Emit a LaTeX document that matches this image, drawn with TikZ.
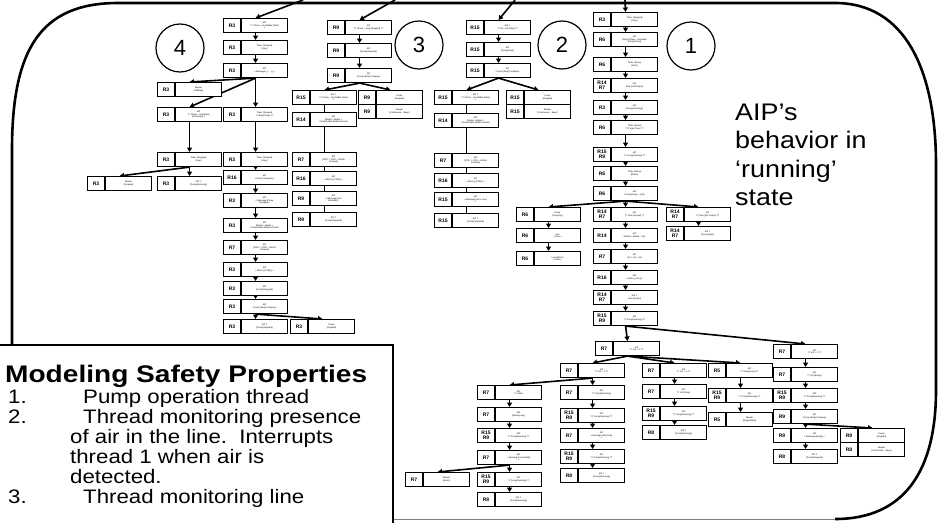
\documentclass[tikz,border=0pt]{standalone}
\usepackage{fontspec}
\usepackage{graphicx}
\setmainfont{Liberation Sans}
\usetikzlibrary{arrows.meta,calc}
\newcommand\aboxreal[5]{%
  \node[bx] (#1) at (#2,#3) {};
  \draw[ln] ($(#1.north west)+(18,0)$) -- ($(#1.south west)+(18,0)$);
  \node[lbl] at ($(#1.west)+(9,0)$) {#4};
  \node[tx] at ($(#1.center)+(9,0)$) {#5};
}
\newcommand\aboxghost[5]{\path node[bx, draw=none, fill=none] (#1) at (#2,#3) {};}
\newcommand\con[2]{\draw[arr] (#1.south) -- (#2.north);}
\newcommand\conl[2]{\draw[cln] (#1.south) -- (#2.north);}
\newcommand\allboxes{%
% ---------- thread 4
\abox{c4a}{223}{18}{R3}{AIP\\?? Check -- Air Bubble {[Start]}\\!!}
\abox{c4b}{223}{40}{R3}{Timer (Stopped)\\{[Stop]}}
\abox{c4c}{223}{63}{R3}{AIP\\<< Message{[...]} ... {[]} >>}
\abox{c4d}{157}{82}{R3}{Beeper\\{[OffBeep]}}
\abox{c4e}{157}{107}{R3}{AIP\\?? Check -- Air Bubble\\{[Continued]} !!}
\abox{c4f}{223}{107}{R3}{Timer (Stopped)\\?? Beep Delay ??}
\abox{c4g}{157}{152}{R3}{Timer (Stopped)\\{[Stop]}}
\abox{c4h}{223}{152}{R3}{Timer (Stopped)\\{[Stop]}}
\abox{c4r}{87}{176}{R3}{Beeper\\{[Stopped]}}
\abox{c4s}{157}{176}{R3}{AIP !!\\{[Pump(Running)]}}
\abox{c4i}{223}{170}{R16}{AIP\\<< Motor {[Stopped]} >>}
\abox{c4j}{223}{193}{R3}{AIP\\<< Message {[Pump}\\{Stopped]} >>}
\abox{c4k}{223}{218}{R3}{AIP\\{[Model = Model +}\\{Commanded Model Amount]}}
\abox{c4l}{223}{240}{R7}{AIP\\{[VTBI := VTBI -- VolInfo}\\{Pumped]}}
\abox{c4m}{223}{262}{R3}{AIP\\<< Motor {[]} VTBI {[]} >>}
\abox{c4n}{223}{281}{R3}{AIP\\{[Pump(Stopped)]}}
\abox{c4o}{223}{299}{R3}{AIP\\<Pump {[Stop]} Pumping>}
\abox{c4p}{223}{319}{R3}{AIP !!\\{[Pump(Stopped)]}}
\abox{c4q}{290}{319}{R3}{Pump\\{[Stopped]}}
% ---------- thread 3
\abox{c3a}{327}{20}{R9}{AIP\\?? Check -- Stop {[Stopped]} ??}
\abox{c3b}{327}{43}{R9}{AIP\\{[Pump(Stopped)]}}
\abox{c3c}{327}{68}{R9}{AIP\\<Pump {[Stop]} Pumping>}
\abox{c3d}{292}{90}{R15}{AIP !!\\?? Check -- Air Bubble {[Stop]}\\!!}
\abox{c3e}{292}{112}{R14}{AIP\\{[Model = Model +}\\{Commanded Model Amount]}}
\abox{c3f}{358}{90}{R9}{Pump\\{[Stopped]}}
\abox{c3f2}{358}{104}{R9}{Beeper\\{[Continuous -- Beep]}}
\abox{c3g}{292}{152}{R7}{AIP\\{[VTBI := VTBI -- VolInfo}\\{Pumped]}}
\abox{c3h}{292}{171}{R16}{AIP\\<< Motor {[]} VTBI {[]} >>}
\abox{c3i}{292}{191}{R9}{AIP\\<< Message {[Line}\\{Blocked]} >>}
\abox{c3j}{292}{212}{R9}{AIP !!\\{[Pump(Stopped)]}}
% ---------- thread 2
\abox{c2a}{466}{20}{R15}{AIP !!\\?? Air -- Air {[Stop]} ??}
\abox{c2b}{466}{42}{R15}{AIP\\{[Pump(Stop)]}}
\abox{c2c}{466}{63}{R15}{AIP\\<Pump {[Stop]} Pumping>}
\abox{c2d}{434}{90}{R15}{AIP !!\\?? Check -- Air Bubble {[Stop]}\\!!}
\abox{c2f}{506}{90}{R15}{Pump\\{[Stopped]}}
\abox{c2f2}{506}{104}{R15}{Beeper\\{[Continuous -- Beep]}}
\abox{c2e}{434}{113}{R14}{AIP\\{[Model = Model +}\\{Commanded Model Amount]}}
\abox{c2g}{434}{153}{R7}{AIP\\{[VTBI := VTBI -- VolInfo}\\{Pumped]}}
\abox{c2h}{434}{173}{R16}{AIP\\<< Motor {[]} VTBI {[]} >>}
\abox{c2i}{434}{192}{R15}{AIP\\<< Message {[Air in Line]}\\>>}
\abox{c2j}{434}{213}{R15}{AIP !!\\{[Pump(Stopped)]}}
% ---------- thread 1
\abox{c1a}{593}{12}{R3}{Timer (Stopped)\\{[Stop]}}
\abox{c1b}{593}{32}{R6}{AIP\\{[Pump(Timer -- Unlocked}\\{Pump(Timer)]}}
\abox{c1c}{593}{57}{R6}{Timer (Pump)\\{[Start]}}
\abox{c1d}{593}{78}{R14\\R7}{AIP\\Stop {[Unit/Output]}}
\abox{c1e}{593}{100}{R3}{AIP\\{[Pump(Running)]}}
\abox{c1f}{593}{120}{R6}{Timer (Pump)\\?? Pump Timer ??}
\abox{c1g}{593}{147}{R15\\R9}{AIP\\?? Pump(Running) ??}
\abox{c1h}{593}{166}{R6}{Timer (Pump)\\{[Reset]}}
\abox{c1i}{593}{186}{R6}{AIP\\<Pump{[Pump -- Vol]}>}
\abox{c1L}{516}{207}{R6}{Pump\\{[Pumping]}}
\abox{c1L2}{516}{228}{R6}{Line\\<< Flow >>}
\abox{c1L3}{516}{251}{R6}{Line (Motor)\\<< Flow >>}
\abox{c1j}{593}{207}{R14\\R7}{AIP\\?? Flow {[Output]} ??}
\abox{c1R}{666}{207}{R14\\R7}{AIP\\?? Flow {[Set Output]} ??}
\abox{c1R2}{666}{226}{R14\\R7}{AIP !!\\Flow {[Output]}}
\abox{c1k}{593}{228}{R14}{AIP\\{[Model = Model -- Vol]}}
\abox{c1l}{593}{249}{R7}{AIP\\Vol := Vol -- Vol}
\abox{c1m}{593}{270}{R16}{AIP\\<< Motor {[]} Vol {[]} >>}
\abox{c1n}{593}{290}{R14\\R7}{AIP !!\\Flow {[Output]}}
\abox{c1o}{593}{311}{R15\\R9}{AIP\\?? Pump(Running) ??}
\abox{c1p}{595}{341}{R7}{AIP\\?? Vol := 0 ??}
\abox{c1q}{773}{344}{R7}{AIP\\?? Vol := 0 ??}
\abox{p1}{560}{363}{R7}{AIP\\?? Vol := 0 ??}
\abox{p2}{642}{363}{R7}{AIP\\?? Vol := 0 ??}
\abox{p3}{708}{363}{R5}{AIP\\?? Model {[Low]} ??}
\abox{q1}{477}{385}{R7}{AIP\\?? Alarm}
\abox{q1a}{477}{407}{R7}{AIP\\{[Alarm(Low)]}}
\abox{q1b}{477}{428}{R15\\R9}{AIP\\?? Pump(Running) ??}
\abox{q1c}{477}{450}{R7}{AIP\\<< Message {[Low Model]}\\>>}
\abox{q1d}{405}{472}{R7}{Beeper\\{[Alarm]}}
\abox{q1e}{477}{472}{R15\\R9}{AIP\\?? Pump(Running) ??}
\abox{q1f}{477}{492}{R8}{AIP !!\\{[Pump(Running)]}}
\abox{q2}{560}{385}{R7}{AIP\\?? Pump(Running)}
\abox{q2a}{560}{408}{R15\\R9}{AIP\\?? Pump(Running) ??}
\abox{q2b}{560}{428}{R7}{AIP\\<< Message {[Vol Done]}\\>>}
\abox{q2c}{560}{449}{R15\\R9}{AIP\\?? Pump(Running) ??}
\abox{q2d}{560}{468}{R8}{AIP !!\\{[Pump(Running)]}}
\abox{p2a}{642}{384}{R7}{AIP\\?? Vol {[Done]}}
\abox{p2b}{642}{406}{R15\\R9}{AIP\\?? Pump(Running) ??}
\abox{p2c}{642}{425}{R8}{AIP !!\\{[Pump(Running)]}}
\abox{p3a}{708}{388}{R15\\R9}{AIP\\?? Pump(Running) ??}
\abox{p3b}{708}{412}{R5}{Beeper\\{[Single Beep]}}
\abox{r1}{773}{367}{R7}{AIP\\?? Vol {[Empty]}}
\abox{r2}{773}{388}{R15\\R9}{AIP\\?? Pump(Running) ??}
\abox{r3}{773}{409}{R9}{AIP\\<Pump {[Stop]} Pumping>}
\abox{r4}{773}{428}{R9}{AIP\\<< Message {[Empty]} >>}
\abox{r5}{773}{449}{R8}{AIP !!\\{[Pump(Stopped)]}}
\abox{r6}{840}{428}{R9}{Pump\\{[Stopped]}}
\abox{r7}{840}{442}{R8}{Beeper\\{[Continuous -- Beep]}}
}
\begin{document}
\begin{tikzpicture}[x=1pt,y=-1pt,
  bx/.style={draw, line width=1.1pt, minimum width=64pt, minimum height=14pt, inner sep=0pt, anchor=north west, fill=white},
  lbl/.style={font=\fontsize{5}{4.6}\selectfont\bfseries, inner sep=0pt, align=center},
  tx/.style={font=\fontsize{2.2}{2.6}\selectfont, inner sep=0pt, align=center},
  arr/.style={draw=black, line width=1.6pt, -{Triangle[length=4.5pt,width=5pt]}},
  ln/.style={draw=black, line width=1.1pt},
  cln/.style={draw=black, line width=1.6pt},
  frame/.style={line width=2.6pt},
  circ/.style={draw, circle, line width=1.2pt, minimum size=48pt, inner sep=0pt, font=\fontsize{22}{22}\selectfont},
  big/.style={inner sep=0pt, anchor=base west, font=\fontsize{24}{24}\selectfont},
  itm/.style={inner sep=0pt, anchor=base west, font=\fontsize{19.5}{19.5}\selectfont},
]
\useasboundingbox (0,0) rectangle (942,522);
\fill[white] (0,0) rectangle (942,522);

% outer frame
\draw[frame] (12,522) -- (12,150) .. controls (12,50) and (40,3) .. (118,3) -- (835,3)
  .. controls (905,3) and (936,70) .. (936,165) -- (936,390)
  .. controls (936,470) and (905,519) .. (835,519);
\draw[gray, line width=1pt] (393,519.5) -- (835,519.5);

% entry points from above
\coordinate (t4) at (303,0);
\coordinate (t3) at (395,0);
\coordinate (t2) at (515,0);
\coordinate (t1) at (625,0);

% pass 1: place the boxes (invisible) so that connectors can be drawn first
\let\abox\aboxghost
\allboxes

% ---------- connectors
\draw[arr] (t4) -- (c4a.north);
\draw[arr] (t3) -- (c3a.north);
\draw[arr] (t2) -- (c2a.north);
\draw[arr] (t1) -- (c1a.north);

\con{c4a}{c4b} \con{c4b}{c4c} \con{c4c}{c4d} \con{c4c}{c4e} \con{c4c}{c4f}
\con{c4e}{c4g} \con{c4f}{c4h} \con{c4g}{c4r} \con{c4g}{c4s} \con{c4h}{c4i}
\con{c4i}{c4j} \con{c4j}{c4k} \con{c4k}{c4l} \con{c4l}{c4m} \con{c4m}{c4n}
\con{c4n}{c4o} \con{c4o}{c4p} \con{c4o}{c4q}

\con{c3a}{c3b} \con{c3b}{c3c} \con{c3c}{c3d} \con{c3c}{c3f}
\conl{c3d}{c3e} \conl{c3e}{c3g} \conl{c3g}{c3h} \conl{c3h}{c3i} \conl{c3i}{c3j}

\con{c2a}{c2b} \con{c2b}{c2c} \con{c2c}{c2d} \con{c2c}{c2f}
\conl{c2d}{c2e} \conl{c2e}{c2g} \conl{c2g}{c2h} \conl{c2h}{c2i} \conl{c2i}{c2j}

\con{c1a}{c1b} \con{c1b}{c1c} \con{c1c}{c1d} \con{c1d}{c1e} \con{c1e}{c1f}
\con{c1f}{c1g} \con{c1g}{c1h} \con{c1h}{c1i}
\con{c1i}{c1L} \con{c1i}{c1j} \con{c1i}{c1R}
\con{c1L}{c1L2} \con{c1L2}{c1L3} \con{c1R}{c1R2}
\con{c1j}{c1k} \con{c1k}{c1l} \con{c1l}{c1m} \con{c1m}{c1n} \con{c1n}{c1o}
\con{c1o}{c1p} \con{c1o}{c1q}
\con{c1p}{p1} \con{c1p}{p2} \con{c1p}{p3}
\con{p1}{q1} \con{p1}{q2}
\con{q1}{q1a} \con{q1a}{q1b} \con{q1b}{q1c} \con{q1c}{q1d} \con{q1c}{q1e} \con{q1e}{q1f}
\con{q2}{q2a} \con{q2a}{q2b} \con{q2b}{q2c} \con{q2c}{q2d}
\con{p2}{p2a} \con{p2a}{p2b} \con{p2b}{p2c}
\con{p3}{p3a} \con{p3a}{p3b}
\con{c1q}{r1} \con{r1}{r2} \con{r2}{r3} \con{r3}{r4} \con{r3}{r6} \con{r4}{r5}

% pass 2: draw the boxes
\let\abox\aboxreal
\allboxes

% circles
\node[circ] (n4) at (180,48) {4};
\node[circ] (n3) at (419,45) {3};
\node[circ] (n2) at (562,45) {2};
\node[circ] (n1) at (691,46) {1};

% caption
\node[big] (cap1) at (735,120) {\scalebox{1.12}[1]{AIP’s}};
\node[big] (cap2) at (735,148.5) {\scalebox{1.12}[1]{behavior in}};
\node[big] (cap3) at (735,177) {\scalebox{1.12}[1]{‘running’}};
\node[big] (cap4) at (735,205.5) {\scalebox{1.12}[1]{state}};

% ---------- legend box
\draw[line width=1.6pt, fill=white] (-2,345) rectangle (393,524);
\node[inner sep=0pt, anchor=base west, font=\fontsize{24}{24}\selectfont\bfseries] (ttl) at (5,382) {\scalebox{1.17}[1]{Modeling Safety Properties}};
\node[itm] (i1) at (8,403) {\scalebox{1.14}[1]{1.}};
\node[itm] (i1t) at (83,403) {\scalebox{1.14}[1]{Pump operation thread}};
\node[itm] (i2) at (8,423) {\scalebox{1.14}[1]{2.}};
\node[itm] (i2t) at (83,423) {\scalebox{1.14}[1]{Thread monitoring presence}};
\node[itm] (i2b) at (70,443) {\scalebox{1.14}[1]{of air in the line.\ \ Interrupts}};
\node[itm] (i2c) at (70,463) {\scalebox{1.14}[1]{thread 1 when air is}};
\node[itm] (i2d) at (70,483) {\scalebox{1.14}[1]{detected.}};
\node[itm] (i3) at (8,503) {\scalebox{1.14}[1]{3.}};
\node[itm] (i3t) at (83,503) {\scalebox{1.14}[1]{Thread monitoring line}};
\end{tikzpicture}
\end{document}
